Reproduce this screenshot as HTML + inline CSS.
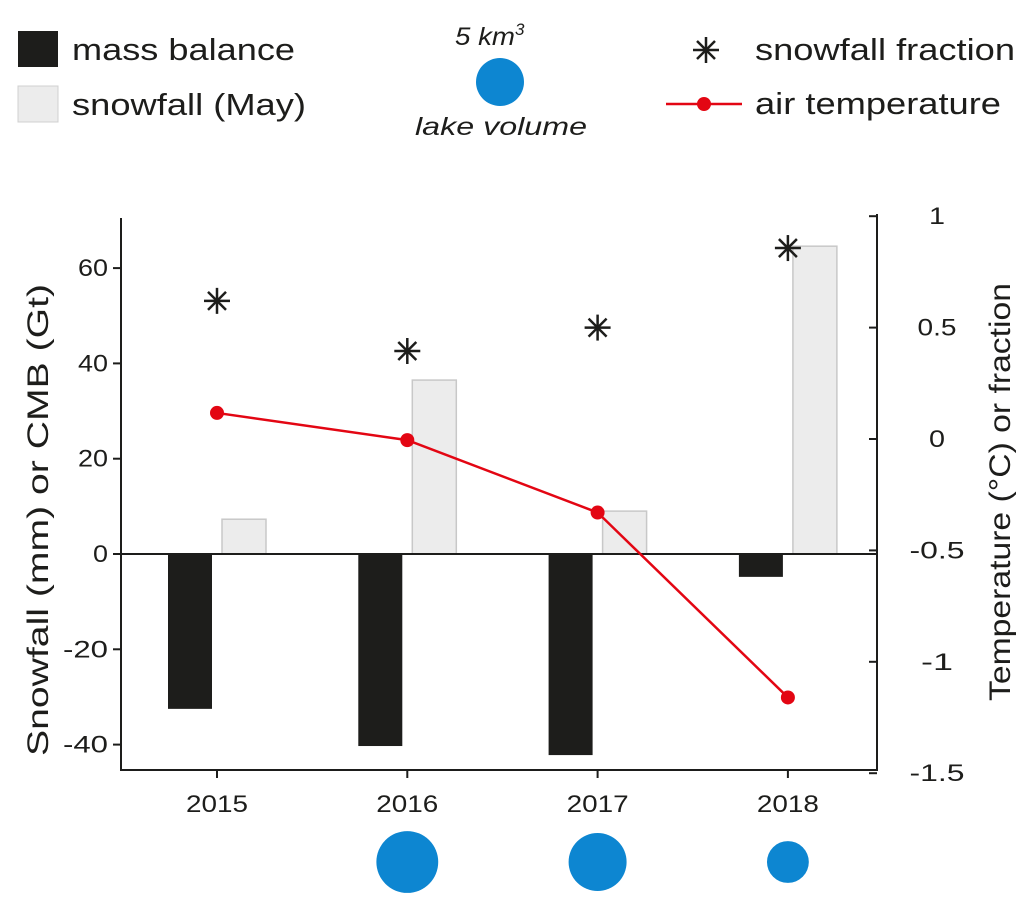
<!DOCTYPE html>
<html><head><meta charset="utf-8"><style>
body{margin:0;background:#fff;}
svg{display:block;font-family:"Liberation Sans",Arial,sans-serif;}
</style></head><body>
<svg id="chart" width="1033" height="912" viewBox="0 0 1033 912">
<g>
  <rect x="18" y="31" width="40" height="36" fill="#1d1d1b"/>
  <text x="72" y="60" font-size="31" textLength="223" lengthAdjust="spacingAndGlyphs" fill="#1d1d1b">mass balance</text>
  <rect x="18" y="86" width="40" height="36" fill="#ececec" stroke="#d0d0d0"/>
  <text x="72" y="115" font-size="31" textLength="234" lengthAdjust="spacingAndGlyphs" fill="#1d1d1b">snowfall (May)</text>
  <text x="455" y="45" font-size="25" font-style="italic" fill="#1d1d1b"><tspan textLength="60" lengthAdjust="spacingAndGlyphs">5 km</tspan><tspan dy="-10" font-size="17">3</tspan></text>
  <circle cx="500" cy="82" r="24" fill="#0d86d1"/>
  <text x="415" y="135" font-size="25" font-style="italic" textLength="172" lengthAdjust="spacingAndGlyphs" fill="#1d1d1b">lake volume</text>
  <g stroke="#1d1d1b" stroke-width="2.5">
    <line x1="693" y1="50" x2="719" y2="50"/><line x1="706" y1="37" x2="706" y2="63"/>
    <line x1="697" y1="41" x2="715" y2="59"/><line x1="715" y1="41" x2="697" y2="59"/>
  </g>
  <text x="755" y="60" font-size="31" textLength="260" lengthAdjust="spacingAndGlyphs" fill="#1d1d1b">snowfall fraction</text>
  <line x1="666" y1="104" x2="742" y2="104" stroke="#e30613" stroke-width="2.5"/>
  <circle cx="704" cy="104" r="7" fill="#e30613"/>
  <text x="755" y="114" font-size="31" textLength="246" lengthAdjust="spacingAndGlyphs" fill="#1d1d1b">air temperature</text>
</g>
<g id="plot"></g>
</svg>
<script>
const years=["2015","2016","2017","2018"];
const massBalance=[-32.5,-40.3,-42.2,-4.8];
const snowfall=[7.3,36.5,9.0,64.6];
const snowFraction=[0.62,0.395,0.50,0.857];
const airTemp=[0.117,-0.005,-0.33,-1.16];
const lakeVolume=[8.3,7.3,3.8];
const lakeYears=["2016","2017","2018"];
const leftTicks=[60,40,20,0,-20,-40];
const rightTicks=[1,0.5,0,-0.5,-1,-1.5];
const rightTickLabels=["1","0.5","0","-0.5","-1","-1.5"];

const NS="http://www.w3.org/2000/svg";
const g=document.getElementById('plot');
const yL=v=>554-v*4.765;
const yR=v=>439-v*222.8;
const xC=i=>217+i*190.3;
function el(t,a,p){const e=document.createElementNS(NS,t);for(const k in a)e.setAttribute(k,a[k]);(p||g).appendChild(e);return e;}
function tx(x,y,s,a,size,len){const o={x:x,y:y,'font-size':size||23,'text-anchor':a,fill:'#1d1d1b'};if(len){o.textLength=len;o.lengthAdjust='spacingAndGlyphs';}const e=el('text',o);e.textContent=s;return e;}

years.forEach((y,i)=>{
  const x=xC(i);
  const m=massBalance[i];
  const b=el('rect',{x:x-49,y:Math.min(yL(0),yL(m)),width:44,height:Math.abs(yL(m)-yL(0)),fill:'#1d1d1b'});
  
  
  const s=snowfall[i];
  const r=el('rect',{x:x+5,y:yL(s),width:44,height:yL(0)-yL(s),fill:'#ececec',stroke:'#c8c8c8','stroke-width':1.5});
  
  
});
const ax=el('g',{stroke:'#1d1d1b','stroke-width':2,fill:'none'});


el('line',{x1:121,y1:218,x2:121,y2:771},ax);
el('line',{x1:877,y1:214,x2:877,y2:771},ax);
el('line',{x1:121,y1:770,x2:877,y2:770},ax);
el('line',{x1:121,y1:yL(0),x2:877,y2:yL(0)},ax);
leftTicks.forEach(v=>{
  el('line',{x1:113,y1:yL(v),x2:121,y2:yL(v)},ax);
  const s=String(v);
  const t=tx(108,yL(v)+8,s,'end',24,s.length*15);
  
  
});
rightTicks.forEach((v,i)=>{
  el('line',{x1:869,y1:yR(v),x2:877,y2:yR(v)},ax);
  const s=rightTickLabels[i];
  const t=tx(937,yR(v)+8,s,'middle',24,s.replace('.','').length*16+(s.includes('.')?7:0));
  
  
});
years.forEach((y,i)=>{
  el('line',{x1:xC(i),y1:770,x2:xC(i),y2:778},ax);
  const t=tx(xC(i),812,y,'middle',24,62);
  
  
});
const yl=tx(0,0,'Snowfall (mm) or CMB  (Gt)','middle',30,472);
yl.setAttribute('transform','translate(48,520) rotate(-90)');


const yr=tx(0,0,'Temperature (°C) or fraction','middle',30,418);
yr.setAttribute('transform','translate(1010,492) rotate(-90)');


const pl=el('polyline',{points:airTemp.map((v,i)=>xC(i)+','+yR(v)).join(' '),fill:'none',stroke:'#e30613','stroke-width':2.5});


airTemp.forEach((v,i)=>{
  const c=el('circle',{cx:xC(i),cy:yR(v),r:7,fill:'#e30613'});
  
  
});
snowFraction.forEach((v,i)=>{
  const x=xC(i),y=yR(v);
  const s=el('g',{stroke:'#1d1d1b','stroke-width':2.5});
  
  
  el('line',{x1:x-13,y1:y,x2:x+13,y2:y},s);
  el('line',{x1:x,y1:y-13,x2:x,y2:y+13},s);
  el('line',{x1:x-9,y1:y-9,x2:x+9,y2:y+9},s);
  el('line',{x1:x+9,y1:y-9,x2:x-9,y2:y+9},s);
});
lakeVolume.forEach((v,i)=>{
  const idx=years.indexOf(lakeYears[i]);
  const c=el('circle',{cx:xC(idx),cy:862,r:24*Math.sqrt(v/5),fill:'#0d86d1'});
  
  
});
</script>
</body></html>
